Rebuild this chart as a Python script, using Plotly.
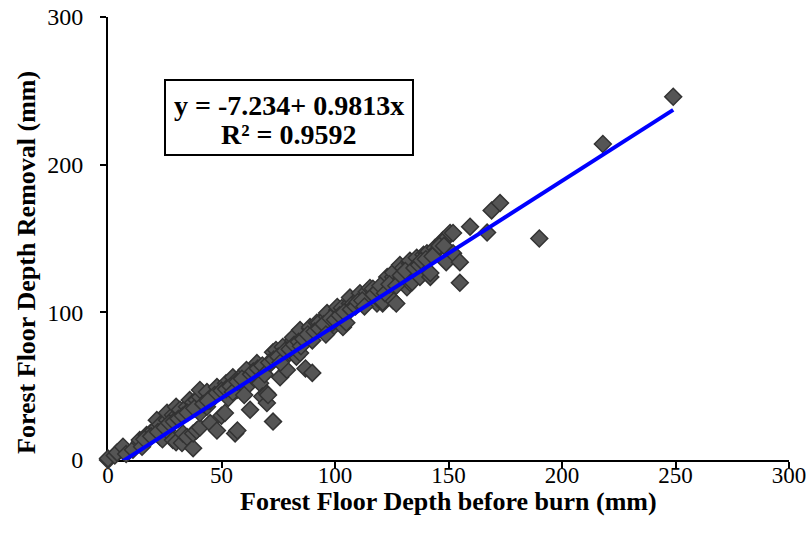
import plotly.graph_objects as go

# Forest floor depth before burn (mm) and depth removed by the burn (mm)
depth_before = [
    0, 0, 3, 4, 6.6, 8, 11, 14, 14, 15, 17, 18.5, 20, 21.5, 21.5, 23, 23, 24,
    26, 26, 26, 28.6, 28.6, 30, 30, 30, 31.7, 32.6, 33, 34.8, 34.8, 36, 36,
    37.5, 37.5, 37.5, 39, 39, 40.5, 40.5, 40.5, 40.5, 43.6, 43.6, 45, 45, 48,
    48, 48, 50, 51.5, 52, 53, 55, 56, 56.8, 57, 58, 60, 61, 61, 62.6, 64, 65.6,
    67, 68, 70, 70, 70, 70.5, 72.7, 72.7, 74, 75.8, 77, 78.8, 80, 81.5, 81.5,
    83, 84.6, 84.6, 87, 87.6, 89, 89, 90, 90, 92, 93, 96.5, 96.5, 97.8, 99,
    101, 101, 103, 103.5, 105, 106.6, 106.6, 108, 111, 111, 114, 115.4, 116.7,
    118.5, 121, 121, 123, 123, 125.6, 125.6, 125.6, 127, 128.6, 128.6, 130,
    131.7, 133, 133, 133, 134, 136, 137.4, 139, 140.5, 142, 142, 144, 145, 147,
    147.6, 149, 149, 150.7, 152, 152, 155, 155, 159.5, 167, 169, 172.7, 190,
    218, 249,
    45, 47, 50, 52, 54, 55, 57, 59, 60, 63, 64, 66, 68, 69, 71, 73, 75, 76, 78,
    80, 82, 84, 85, 86, 88, 91, 93, 95, 96, 98, 100, 102, 104, 107, 109, 110,
    112, 113, 117, 119, 120, 122, 124, 127, 129, 131, 135, 137, 138, 140, 143,
    146, 148, 16, 19, 22, 25, 27, 29, 31, 33, 35, 38, 42, 44,
]
depth_removed = [
    0, 1, 3, 5, 9, 4, 7, 12, 13.5, 9, 17, 18, 20, 22, 27, 15.6, 24, 14,
    20, 27, 32, 13.5, 30.5, 12, 30, 36, 34, 11.5, 18, 15.6, 36, 34, 40.6,
    8, 18, 39, 20, 40.6, 22, 31.8, 42.6, 47.4, 36, 46, 25, 40, 20,
    45, 49.4, 30, 31.8, 52, 42, 56, 18, 47.4, 20, 56, 52, 49.4, 61, 34, 56, 65.6,
    52, 43, 38.6, 45, 63, 44, 26, 73, 74.5, 56, 76.5, 61, 72.4, 81, 83,
    70, 72.4, 88, 62, 83, 89, 90, 59, 81, 93, 93, 97, 99.5, 88, 93,
    101.5, 103.6, 103, 90, 93, 106, 110, 106, 110, 113, 114, 116.5, 116,
    106, 106, 107, 122, 124, 124, 127, 108, 106, 122, 132, 130,
    117, 120, 133, 135, 120.5, 137, 124, 139, 140, 124, 126.6, 143.5, 142, 147.6,
    149, 134, 150, 153.7, 140, 153.7, 134, 120, 158, 154, 169, 174, 150,
    214, 246,
    42, 44, 47, 48, 50, 46, 53, 55, 44, 58, 60, 62, 64, 58, 66, 68, 70, 66, 74,
    75, 78, 80, 77, 82, 85, 87, 89, 92, 85, 96, 95, 98, 100, 102, 104, 107,
    108, 104, 112, 115, 118, 113, 119, 118, 125, 128, 130, 132, 135, 136, 138,
    145, 145, 14, 16, 19, 22, 25, 26, 28, 30, 32, 35, 38, 40,
]

# Least-squares fit reported in the annotation
intercept = -7.234
slope = 0.9813
r_squared = 0.9592

y_ticks = [0, 100, 200, 300]
x_ticks = [0, 50, 100, 150, 200, 250, 300]

x_title = "Forest Floor Depth before burn (mm)"
y_title = "Forest Floor Depth Removal (mm)"

fit_x = [min(depth_before), max(depth_before)]
fit_y = [intercept + slope * v for v in fit_x]

serif = "Liberation Serif, Times New Roman, serif"

W, H = 812, 533
L, R, T, B = 108, 23, 17, 73


def px_to_paper(px, py):
    """Convert a pixel position on the page to paper coordinates."""
    return (px - L) / (W - L - R), (H - B - py) / (H - T - B)


fig = go.Figure()
fig.add_trace(go.Scatter(
    x=depth_before, y=depth_removed, mode="markers",
    marker=dict(symbol="diamond", size=13, color="#555555",
                line=dict(color="#333333", width=1.5)),
    cliponaxis=False, showlegend=False,
))
fig.add_trace(go.Scatter(
    x=fit_x, y=fit_y, mode="lines",
    line=dict(color="#0000FF", width=4), showlegend=False,
))

fig.update_layout(
    width=W, height=H,
    margin=dict(l=L, r=R, t=T, b=B, autoexpand=False),
    paper_bgcolor="white", plot_bgcolor="white",
    font=dict(family=serif, color="black", size=24),
    xaxis=dict(
        range=[0, 300], tickvals=x_ticks, showgrid=False, zeroline=False,
        showline=True, linecolor="black", linewidth=2,
        ticks="outside", ticklen=6, tickwidth=2, tickcolor="black",
        tickfont=dict(size=23), ticklabelstandoff=-13,
        layer="below traces", automargin=False,
    ),
    yaxis=dict(
        range=[0, 300], tickvals=y_ticks, showgrid=False, zeroline=False,
        showline=True, linecolor="black", linewidth=2,
        ticks="outside", ticklen=6, tickwidth=2, tickcolor="black",
        tickfont=dict(size=24), ticklabelstandoff=12,
        layer="below traces", automargin=False,
    ),
)

# Axis titles
tx, ty = px_to_paper(448, 502)
fig.add_annotation(
    xref="paper", yref="paper", x=tx, y=ty,
    xanchor="center", yanchor="middle", showarrow=False,
    text=f"<b>{x_title}</b>", font=dict(family=serif, size=26, color="black"),
)
tx, ty = px_to_paper(26, 263)
fig.add_annotation(
    xref="paper", yref="paper", x=tx, y=ty, textangle=-90,
    xanchor="center", yanchor="middle", showarrow=False,
    text=f"<b>{y_title}</b>", font=dict(family=serif, size=26, color="black"),
)

# Equation box with the regression line and its R²
bx0, by0 = px_to_paper(165, 155)
bx1, by1 = px_to_paper(413, 80)
fig.add_shape(
    type="rect", xref="paper", yref="paper",
    x0=bx0, x1=bx1, y0=by0, y1=by1,
    line=dict(color="black", width=2), fillcolor="white", layer="above",
)
cx, cy1 = px_to_paper(289, 105)
_, cy2 = px_to_paper(289, 134)
fig.add_annotation(
    xref="paper", yref="paper", x=cx, y=cy1,
    xanchor="center", yanchor="middle", showarrow=False,
    text=f"<b>y = {intercept}+ {slope}x</b>",
    font=dict(family=serif, size=28, color="black"),
)
fig.add_annotation(
    xref="paper", yref="paper", x=cx, y=cy2,
    xanchor="center", yanchor="middle", showarrow=False,
    text=f"<b>R² = {r_squared}</b>",
    font=dict(family=serif, size=28, color="black"),
)

fig.write_html("out.html")
